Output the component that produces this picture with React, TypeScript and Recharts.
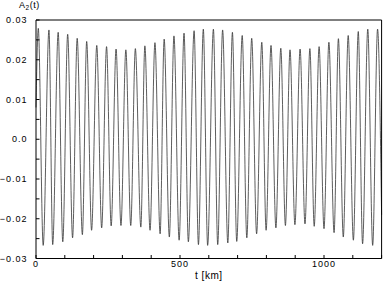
import { LineChart, Line, XAxis, YAxis } from "recharts";

// peaks and troughs (t in km, amplitude)
const peakKm = [
  8, 45, 77, 110, 143, 176, 211, 245, 278, 312, 345, 378, 413, 445, 479, 514, 549, 581,
  616, 648, 682, 716, 749, 784, 816, 850, 882, 917, 951, 983, 1017, 1050, 1084, 1119, 1152, 1186,
];
const peakValue = [
  0.0279, 0.0275, 0.0269, 0.0264, 0.0254, 0.0246, 0.0236, 0.0233, 0.0227, 0.0225, 0.0228, 0.0235,
  0.0243, 0.0252, 0.026, 0.0267, 0.0273, 0.0277, 0.0277, 0.0275, 0.0269, 0.0261, 0.0254, 0.0244,
  0.0236, 0.0229, 0.0225, 0.0227, 0.0228, 0.0233, 0.0244, 0.0253, 0.0261, 0.0271, 0.0277, 0.0277,
];
const troughKm = [
  25, 58, 93, 127, 161, 193, 228, 261, 295, 329, 364, 396, 431, 463, 497, 529, 564, 596,
  631, 666, 697, 732, 766, 799, 833, 866, 899, 934, 966, 1000, 1035, 1067, 1102, 1134, 1169,
];
const troughValue = [
  -0.0267, -0.0265, -0.0258, -0.0248, -0.024, -0.0229, -0.0223, -0.0218, -0.0217, -0.0217, -0.0221,
  -0.0229, -0.0238, -0.0246, -0.0254, -0.0258, -0.0265, -0.0267, -0.0265, -0.0261, -0.0257, -0.0248,
  -0.0238, -0.0229, -0.0223, -0.0217, -0.0215, -0.0213, -0.0219, -0.0225, -0.0235, -0.0246, -0.0254,
  -0.0263, -0.0267,
];
const startKm = 0;
const startValue = 0.008;
const endKm = 1200;
const endValue = -0.019;

const xTicks = [0, 100, 200, 300, 400, 500, 600, 700, 800, 900, 1000, 1100, 1200];
const xLabelTicks = [0, 500, 1000];
const yTicks = [-0.03, -0.025, -0.02, -0.015, -0.01, -0.005, 0, 0.005, 0.01, 0.015, 0.02, 0.025, 0.03];
const yLabelTicks = [0.03, 0.02, 0.01, 0, -0.01, -0.02, -0.03];
const yLabelText = ["0.03", "0.02", "0.01", "0.0", "\u22120.01", "\u22120.02", "\u22120.03"];

const series = [
  { t: startKm, a: startValue },
  ...peakKm.map((t, i) => ({ t, a: peakValue[i] })),
  ...troughKm.map((t, i) => ({ t, a: troughValue[i] })),
  { t: endKm, a: endValue },
].sort((p, q) => p.t - q.t);

const font = "'Liberation Sans', Arial, sans-serif";
const tickStyle = { fill: "#000", fontSize: 9, fontFamily: font, letterSpacing: 1 };

const fmtX = (v: number) => (xLabelTicks.includes(v) ? String(v) : "");
const fmtY = (v: number) => {
  const i = yLabelTicks.findIndex((l) => Math.abs(l - v) < 1e-9);
  return i >= 0 ? yLabelText[i] : "";
};

export default function App() {
  return (
    <div style={{ position: "absolute", left: 0, top: 0, width: 383, height: 287, background: "#fff" }}>
      <div
        style={{
          position: "absolute",
          left: 19,
          top: 1,
          fontFamily: font,
          fontSize: 9,
          lineHeight: "9px",
          letterSpacing: 0.5,
          color: "#000",
        }}
      >
        A<sub style={{ fontSize: 6.5, verticalAlign: "-2px", lineHeight: "6px" }}>2</sub>(t)
      </div>
      <LineChart
        width={383}
        height={287}
        data={series}
        margin={{ top: 19, right: 0.4, bottom: 0, left: 0 }}
      >
        <XAxis
          dataKey="t"
          type="number"
          domain={[0, 1200]}
          ticks={xTicks}
          interval={0}
          tickFormatter={fmtX}
          height={28.5}
          tickSize={-3.5}
          tickMargin={5.5}
          stroke="#000"
          tick={tickStyle}
          label={{
            value: "t [km]",
            position: "insideBottom",
            offset: 8,
            style: { fill: "#000", fontSize: 10, fontFamily: font, letterSpacing: 0.5 },
          }}
        />
        <XAxis
          xAxisId="top"
          orientation="top"
          type="number"
          domain={[0, 1200]}
          ticks={xTicks}
          interval={0}
          height={1}
          tickSize={-3.5}
          stroke="#000"
          tick={false}
        />
        <YAxis
          type="number"
          domain={[-0.03, 0.03]}
          ticks={yTicks}
          interval={0}
          tickFormatter={fmtY}
          width={36}
          tickSize={-3.5}
          tickMargin={12}
          stroke="#000"
          tick={tickStyle}
        />
        <YAxis
          yAxisId="right"
          orientation="right"
          type="number"
          domain={[-0.03, 0.03]}
          ticks={yTicks}
          interval={0}
          width={1}
          tickSize={-3.5}
          stroke="#000"
          tick={false}
        />
        <Line
          dataKey="a"
          type="monotone"
          stroke="#333"
          strokeWidth={0.8}
          dot={false}
          isAnimationActive={false}
        />
      </LineChart>
    </div>
  );
}
